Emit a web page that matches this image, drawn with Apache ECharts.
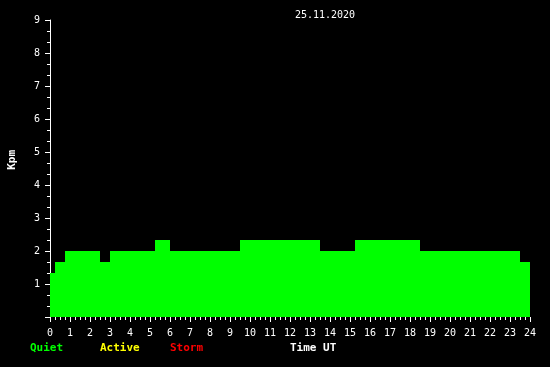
<!DOCTYPE html>
<html>
<head>
<meta charset="utf-8">
<script src="https://cdn.jsdelivr.net/npm/echarts@6/dist/echarts.min.js"></script>
<style>
html,body{margin:0;padding:0;background:#000;}
#c{width:550px;height:367px;}
</style>
</head>
<body>
<div id="c"></div>
<script>
// Kp step data: start time (hours UT) and value held until the next start
const stepTimes = [0, 0.25, 0.75, 2.5, 3, 5.25, 6, 9.5, 13.5, 15.25, 18.5, 23.5, 24];
const kpValues  = [1.33, 1.67, 2, 1.67, 2, 2.33, 2, 2.33, 2, 2.33, 2, 1.67, 1.67];
const xTickLabels = ['0','1','2','3','4','5','6','7','8','9','10','11','12','13','14','15','16','17','18','19','20','21','22','23','24'];
const yTickLabels = ['', '1','2','3','4','5','6','7','8','9'];
const dateTitle = '25.11.2020';
const legendItems = ['Quiet', 'Active', 'Storm'];

const chart = echarts.init(document.getElementById('c'), null, {renderer: 'canvas'});
const mono = '"DejaVu Sans Mono", monospace';
const legendColors = ['#00ff00', '#ffff00', '#ff0000'];
const legendX = [30, 100, 170];

chart.setOption({
  backgroundColor: '#000',
  animation: false,
  title: {
    text: dateTitle,
    left: 320, top: 5, textAlign: 'center',
    textStyle: {color: '#fff', fontFamily: mono, fontSize: 10, fontWeight: 'normal'}
  },
  grid: {left: 50, right: 20, top: 20, bottom: 50, containLabel: false},
  xAxis: {
    type: 'value', min: 0, max: 24, interval: 1,
    axisLine: {show: false},
    axisTick: {show: true, length: 5, lineStyle: {color: '#fff', width: 1}},
    minorTick: {show: true, splitNumber: 4, length: 3, lineStyle: {color: '#fff', width: 1}},
    splitLine: {show: false},
    axisLabel: {
      color: '#fff', fontFamily: mono, fontSize: 10, margin: 11, showMinLabel: true, showMaxLabel: true,
      formatter: v => xTickLabels[Math.round(v)]
    }
  },
  yAxis: {
    type: 'value', min: 0, max: 9, interval: 1,
    axisLine: {show: true, lineStyle: {color: '#fff', width: 1}},
    axisTick: {show: true, length: 5, lineStyle: {color: '#fff', width: 1}},
    minorTick: {show: true, splitNumber: 3, length: 3, lineStyle: {color: '#fff', width: 1}},
    splitLine: {show: false},
    axisLabel: {
      color: '#fff', fontFamily: mono, fontSize: 10, margin: 10,
      formatter: v => yTickLabels[Math.round(v)]
    }
  },
  series: [{
    type: 'line',
    step: 'end',
    symbol: 'none',
    data: stepTimes.map((t, i) => [t, kpValues[i]]),
    lineStyle: {width: 0, color: '#00ff00'},
    areaStyle: {color: '#00ff00', opacity: 1},
    z: 1
  }],
  graphic: [
    {
      type: 'text', left: 7, top: 150, rotation: Math.PI / 2,
      style: {text: 'Kpm', fill: '#fff', font: 'bold 11px ' + mono}
    },
    ...legendItems.map((t, i) => ({
      type: 'text', left: legendX[i], top: 343,
      style: {text: t, fill: legendColors[i], font: 'bold 11px ' + mono}
    })),
    {
      type: 'text', left: 290, top: 343,
      style: {text: 'Time UT', fill: '#fff', font: 'bold 11px ' + mono}
    }
  ]
});
</script>
</body>
</html>
